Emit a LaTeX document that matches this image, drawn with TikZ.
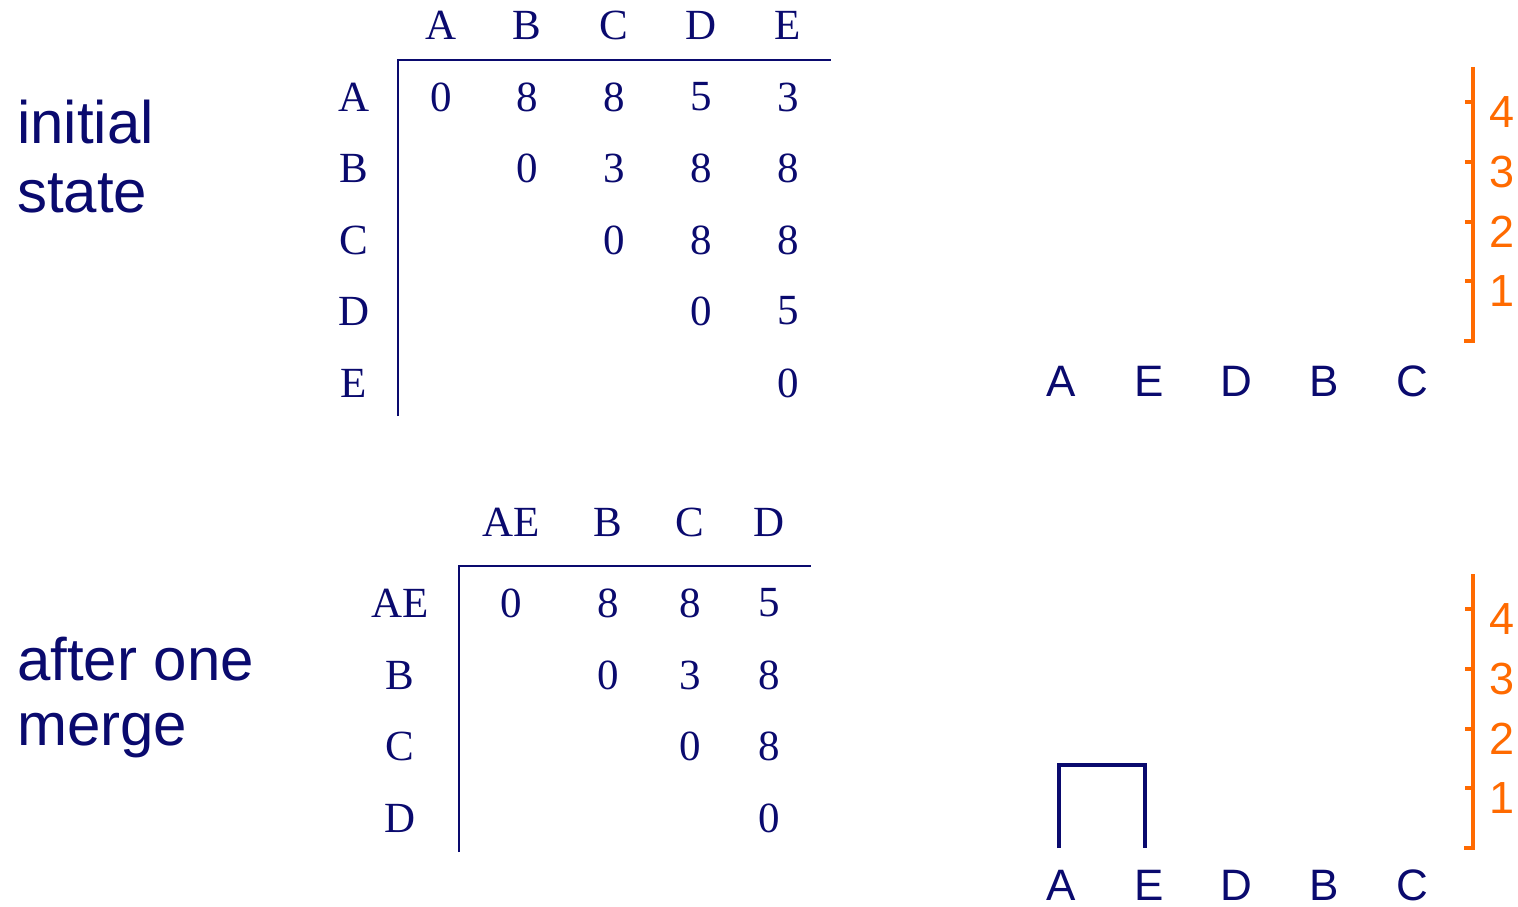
\documentclass[tikz,border=0pt]{standalone}
\usepackage{fontspec}
\setmainfont{Liberation Serif}
\setsansfont{Liberation Sans}
\definecolor{navy}{HTML}{0A0A6E}
\definecolor{orng}{HTML}{FF6A00}
\begin{document}
\begin{tikzpicture}[x=1pt,y=-1pt,
  cell/.style={inner sep=0pt,text=navy,font=\fontsize{43}{46}\selectfont},
  leaf/.style={inner sep=0pt,text=navy,font=\sffamily\fontsize{44}{48}\selectfont},
  title/.style={inner sep=0pt,text=navy,anchor=base west,font=\sffamily\fontsize{60}{66}\selectfont},
  num/.style={inner sep=0pt,text=orng,font=\sffamily\fontsize{45}{48}\selectfont},
  rule/.style={draw=navy,line width=2.5pt},
  scalebar/.style={draw=orng,line width=4pt},
  tree/.style={draw=navy,line width=4pt}]
\useasboundingbox (0,0) rectangle (1518,907);
% titles
\node[title] (t1) at (17,143) {initial};
\node[title] (t2) at (17,212) {state};
\node[title] (t3) at (17,680) {after one};
\node[title] (t4) at (17,745) {merge};
% top matrix
\foreach \n/\x in {A/441,B/527,C/614,D/701,E/788}
  \node[cell] (h\n) at (\x,25) {\n};
\foreach \n/\y in {A/97,B/168,C/240,D/311,E/383}
  \node[cell] (r\n) at (354,\y) {\n};
\coordinate (tv1) at (398,416);
\coordinate (tc) at (398,60);
\coordinate (th2) at (831,60);
\draw[rule] (tv1) -- (tc) -- (th2);
\foreach \v/\x/\y [count=\i] in {0/441/97,8/527/97,8/614/97,5/701/97,3/788/97,
  0/527/168,3/614/168,8/701/168,8/788/168,
  0/614/240,8/701/240,8/788/240,
  0/701/311,5/788/311,
  0/788/383}
  \node[cell] (v\i) at (\x,\y) {\v};
% bottom matrix
\foreach \n/\x in {AE/511,B/608,C/690,D/769}
  \node[cell] (bh\n) at (\x,522) {\n};
\foreach \n/\y in {AE/603,B/675,C/746,D/818}
  \node[cell] (br\n) at (400,\y) {\n};
\coordinate (bv1) at (459,852);
\coordinate (bc) at (459,566);
\coordinate (bh2) at (811,566);
\draw[rule] (bv1) -- (bc) -- (bh2);
\foreach \v/\x/\y [count=\i] in {0/511/603,8/608/603,8/690/603,5/769/603,
  0/608/675,3/690/675,8/769/675,
  0/690/746,8/769/746,
  0/769/818}
  \node[cell] (bv\i) at (\x,\y) {\v};
% leaves
\foreach \n/\x in {A/1061,E/1149,D/1236,B/1324,C/1412} {
  \node[leaf] (l1\n) at (\x,381) {\n};
  \node[leaf] (l2\n) at (\x,885) {\n};
}
% scales
\foreach \yo/\s in {0/1,507/2} {
  \begin{scope}[yshift=-\yo pt]
  \coordinate (s\s top) at (1473,67);
  \coordinate (s\s bot) at (1473,341);
  \coordinate (s\s hook) at (1464,341);
  \draw[scalebar,line cap=butt] (s\s top) -- (s\s bot) -- (s\s hook);
  \foreach \k/\y in {4/102,3/162,2/222,1/281} {
    \coordinate (s\s t\k a) at (1465,\y);
    \coordinate (s\s t\k b) at (1473,\y);
    \draw[scalebar] (s\s t\k a) -- (s\s t\k b);
    \node[num] (s\s n\k) at (1502,\y+10) {\k};
  }
  \end{scope}
}
% dendrogram merge
\coordinate (dA) at (1059,848);
\coordinate (dAt) at (1059,765);
\coordinate (dEt) at (1145,765);
\coordinate (dE) at (1145,848);
\draw[tree] (dA) -- (dAt) -- (dEt) -- (dE);
\end{tikzpicture}
\end{document}
